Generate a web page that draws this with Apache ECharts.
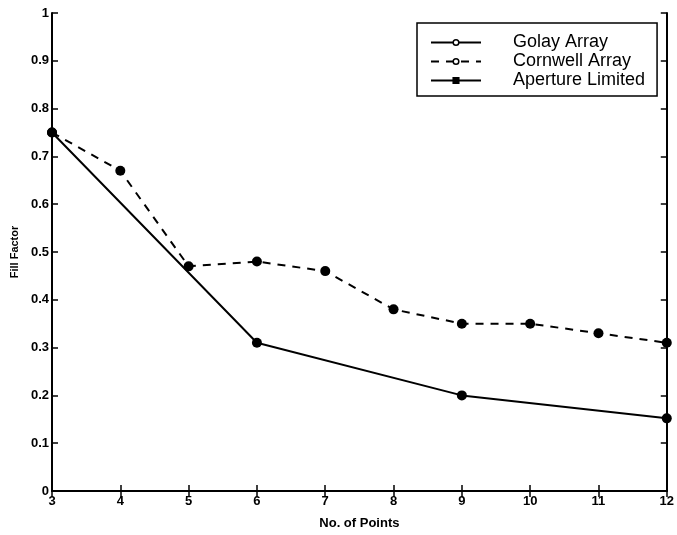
<!DOCTYPE html>
<html>
<head>
<meta charset="utf-8">
<script src="https://cdn.jsdelivr.net/npm/echarts@6/dist/echarts.min.js"></script>
<style>html,body{margin:0;padding:0;background:#fff}#c{width:677px;height:535px}</style>
</head>
<body>
<div id="c"></div>
<script>
const golayX = [3, 6, 9, 12];
const golayY = [0.75, 0.31, 0.20, 0.152];
const cornwellX = [3, 4, 5, 6, 7, 8, 9, 10, 11, 12];
const cornwellY = [0.75, 0.67, 0.47, 0.48, 0.46, 0.38, 0.35, 0.35, 0.33, 0.31];
const apertureX = [];
const apertureY = [];
const seriesNames = ['Golay Array', 'Cornwell Array', 'Aperture Limited'];
const xTitle = 'No. of Points';
const yTitle = 'Fill Factor';

const pairs = (xs, ys) => xs.map((x, i) => [x, ys[i]]);
const font = 'Liberation Sans, Arial, Helvetica, sans-serif';
const axisCommon = {
  axisLine: { show: true, lineStyle: { color: '#000', width: 2 } },
  axisTick: { show: true, inside: true, length: 6, lineStyle: { color: '#000', width: 1.5 } },
  splitLine: { show: false }
};

const chart = echarts.init(document.getElementById('c'));
chart.setOption({
  animation: false,
  backgroundColor: '#fff',
  grid: { left: 52, right: 3, top: 13, bottom: 37, containLabel: false },
  xAxis: [
    Object.assign({
      type: 'value', min: 3, max: 12, interval: 1, position: 'bottom',
      name: xTitle, nameLocation: 'middle', nameGap: 26,
      nameTextStyle: { fontFamily: font, fontWeight: 'bold', fontSize: 13, color: '#000' },
      axisLabel: { fontFamily: font, fontWeight: 'bold', fontSize: 13, color: '#000', margin: 4 }
    }, axisCommon),
    Object.assign({
      type: 'value', min: 3, max: 12, interval: 1, position: 'top',
      axisLabel: { show: false }
    }, axisCommon)
  ],
  yAxis: [
    Object.assign({
      type: 'value', min: 0, max: 1, interval: 0.1, position: 'left',
      name: yTitle, nameLocation: 'middle', nameGap: 28, nameRotate: 90,
      nameTextStyle: { fontFamily: font, fontWeight: 'bold', fontSize: 11, color: '#000' },
      axisLabel: { fontFamily: font, fontWeight: 'bold', fontSize: 13, color: '#000', margin: 3 }
    }, axisCommon),
    Object.assign({
      type: 'value', min: 0, max: 1, interval: 0.1, position: 'right',
      axisLabel: { show: false }
    }, axisCommon)
  ],
  legend: {
    orient: 'vertical', left: 417, top: 23,
    backgroundColor: '#fff', borderColor: '#000', borderWidth: 1.5, borderRadius: 0,
    padding: [10, 12, 6, 13],
    itemWidth: 50, itemHeight: 7, itemGap: 0,
    itemStyle: { color: '#fff', borderColor: '#000', borderWidth: 1.5 },
    textStyle: { fontFamily: font, fontSize: 18, lineHeight: 19, color: '#000', padding: [0, 0, 0, 27] },
    data: [
      { name: seriesNames[0] },
      { name: seriesNames[1] },
      { name: seriesNames[2], itemStyle: { color: '#000', borderColor: '#000' } }
    ]
  },
  series: [
    {
      name: seriesNames[0], type: 'line', data: pairs(golayX, golayY),
      symbol: 'circle', symbolSize: 10, showSymbol: true,
      lineStyle: { color: '#000', width: 2 }, itemStyle: { color: '#000' }, z: 3
    },
    {
      name: seriesNames[1], type: 'line', data: pairs(cornwellX, cornwellY),
      symbol: 'circle', symbolSize: 10, showSymbol: true,
      lineStyle: { color: '#000', width: 2, type: [8, 7] }, itemStyle: { color: '#000' }, z: 2
    },
    {
      name: seriesNames[2], type: 'line', data: pairs(apertureX, apertureY),
      symbol: 'rect', symbolSize: 4,
      lineStyle: { color: '#000', width: 2 }, itemStyle: { color: '#000' }
    }
  ]
});
</script>
</body>
</html>
